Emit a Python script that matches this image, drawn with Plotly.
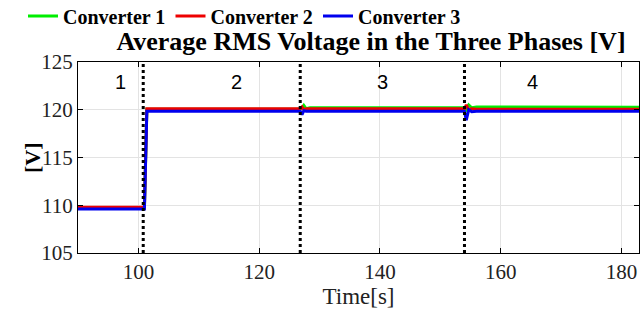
import plotly.graph_objects as go

# ---- data ----
time = [90, 101.0, 101.4, 102, 126.8, 127.1, 127.4, 127.8, 128.4, 154.0, 154.3, 154.7, 155.2, 156.0, 183]
conv1 = [109.75, 109.75, 120.05, 120.05, 120.05, 120.15, 120.45, 120.1, 120.2, 120.2, 120.0, 120.5, 120.2, 120.3, 120.25]
conv2 = [109.8, 109.8, 120.1, 120.1, 120.1, 120.3, 120.0, 120.1, 120.1, 120.1, 120.5, 120.0, 120.1, 120.05, 120.05]
conv3 = [109.6, 109.6, 119.85, 119.85, 119.85, 119.5, 119.9, 119.85, 119.85, 119.85, 118.9, 120.0, 119.8, 119.85, 119.85]
event_times = [100.8, 126.8, 154.0]
period_labels = ["1", "2", "3", "4"]
period_x = [97.1, 116.2, 140.4, 165.2]
period_y = 122.9
series_names = ["Converter 1", "Converter 2", "Converter 3"]
colors = ["#00ee00", "#ee0000", "#0000ee"]

serif = "Times New Roman, Liberation Serif, serif"

fig = go.Figure()
for name, vals, c in zip(series_names, [conv1, conv2, conv3], colors):
    fig.add_trace(go.Scatter(x=time, y=vals, mode="lines", name=name,
                             line=dict(color=c, width=3)))

for t in event_times:
    fig.add_shape(type="line", x0=t, x1=t, y0=0, y1=1, xref="x", yref="paper",
                  line=dict(color="black", width=3, dash="dot"))

for lab, px in zip(period_labels, period_x):
    fig.add_annotation(x=px, y=period_y, text=lab, showarrow=False,
                       font=dict(family="Liberation Sans", size=20, color="black"))

fig.add_annotation(x=(18 - 78) / 561, y=0.5, xref="paper", yref="paper", text="<b>[V]</b>",
                   textangle=-90, showarrow=False,
                   font=dict(family=serif, size=22, color="black"))

fig.update_layout(
    width=641, height=316,
    margin=dict(l=78, r=2, t=62, b=63),
    paper_bgcolor="white", plot_bgcolor="white",
    font=dict(family=serif, color="#222"),
    title=dict(text="<b>Average RMS Voltage in the Three Phases [V]</b>",
               x=(371 - 78) / 561, xref="paper", xanchor="center",
               y=1 - 41 / 316, yref="container", yanchor="middle",
               font=dict(family=serif, size=26, color="black")),
    legend=dict(orientation="h", x=23 / 641, xref="container", xanchor="left",
                y=1 - 16 / 316, yref="container", yanchor="middle",
                font=dict(family=serif, size=20, color="black", weight="bold"),
                bgcolor="rgba(0,0,0,0)", itemwidth=30, borderwidth=0,
                entrywidth=102.5),
    showlegend=True,
    xaxis=dict(range=[90, 182.9], tickvals=[100, 120, 140, 160, 180],
               showgrid=True, gridcolor="#e3e3e3", gridwidth=1,
               showline=True, linecolor="black", linewidth=1, mirror="ticks",
               ticks="inside", ticklen=5, tickcolor="black",
               tickfont=dict(family=serif, size=21, color="#222"),
               zeroline=False,
               title=dict(text="Time[s]", standoff=4,
                          font=dict(family=serif, size=23, color="#222"))),
    yaxis=dict(range=[105, 125], tickvals=[105, 110, 115, 120, 125],
               showgrid=True, gridcolor="#e3e3e3", gridwidth=1,
               showline=True, linecolor="black", linewidth=1, mirror="ticks",
               ticks="inside", ticklen=5, tickcolor="black",
               tickfont=dict(family=serif, size=21, color="#222"),
               zeroline=False),
)

fig.write_html("out.html", config={"displayModeBar": False},
               post_script="document.body.style.margin='0';")
